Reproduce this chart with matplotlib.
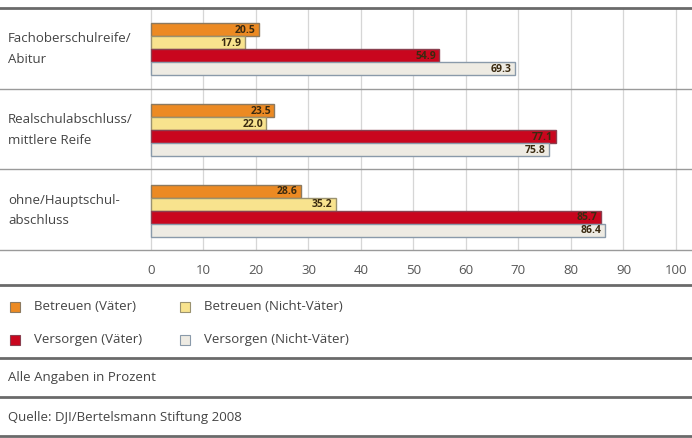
import matplotlib.pyplot as plt
from matplotlib.lines import Line2D
from matplotlib.patches import Rectangle

# data
categories = ["Fachoberschulreife/\nAbitur",
              "Realschulabschluss/\nmittlere Reife",
              "ohne/Hauptschul-\nabschluss"]
series_names = ["Betreuen (Väter)", "Betreuen (Nicht-Väter)",
                "Versorgen (Väter)", "Versorgen (Nicht-Väter)"]
betreuen_vaeter = [20.5, 23.5, 28.6]
betreuen_nicht = [17.9, 22.0, 35.2]
versorgen_vaeter = [54.9, 77.1, 85.7]
versorgen_nicht = [69.3, 75.8, 86.4]
xticks = [0, 10, 20, 30, 40, 50, 60, 70, 80, 90, 100]
note = "Alle Angaben in Prozent"
source = "Quelle: DJI/Bertelsmann Stiftung 2008"

series = [betreuen_vaeter, betreuen_nicht, versorgen_vaeter, versorgen_nicht]
colors = ["#EC8A23", "#F8E38E", "#C9061E", "#EEEBE3"]
edges = ["#8C7A60", "#9A9270", "#8A4050", "#8A9AAA"]

plt.rcParams['font.family'] = ['Open Sans', 'DejaVu Sans']

W, H = 692, 438
fig = plt.figure(figsize=(W / 100, H / 100), dpi=100)
fig.patch.set_facecolor("white")

px_per_unit = 5.25
x0_px = 151
ax = fig.add_axes([0, 1 - 250 / H, 1, (250 - 8) / H])
ax.set_xlim(-x0_px / px_per_unit, (W - x0_px) / px_per_unit)
ax.set_ylim(2.5, -0.5)

bar_h = 0.161
offsets = [-1.5 * bar_h, -0.5 * bar_h, 0.5 * bar_h, 1.5 * bar_h]
for vals, off, c, ec in zip(series, offsets, colors, edges):
    ys = [i + 0.012 + off for i in range(len(categories))]
    ax.barh(ys, vals, height=bar_h, color=c, edgecolor=ec, linewidth=1.0, zorder=3)
    for y, v in zip(ys, vals):
        ax.text(v - 0.6, y + 0.01, f"{v:.1f}", ha="right", va="center",
                fontsize=7.5, fontweight="bold", color="#3a2a10", zorder=4)

# grid
for t in xticks:
    ax.axvline(t, color="#d6d6d6", linewidth=0.9, zorder=1)
for sep in [0.5, 1.5]:
    ax.axhline(sep, color="#9a9a9a", linewidth=1.0, zorder=2)

for s in ["left", "right"]:
    ax.spines[s].set_visible(False)
ax.spines["top"].set_color("#6a6a6a")
ax.spines["top"].set_linewidth(2.0)
ax.spines["bottom"].set_color("#9a9a9a")
ax.spines["bottom"].set_linewidth(1.0)

ax.set_yticks([])
ax.set_xticks(xticks)
ax.set_xticklabels([str(t) for t in xticks], fontsize=9.5, color="#555555")
ax.tick_params(axis="x", length=0, pad=10)

for i, cat in enumerate(categories):
    ax.text(-x0_px / px_per_unit + 8 / px_per_unit, i + 0.01, cat, ha="left", va="center",
            fontsize=9.5, color="#444444", linespacing=1.75)

# horizontal rules below chart
for y_px in [285, 358, 397, 436]:
    fig.add_artist(Line2D([0, 1], [1 - y_px / H] * 2, color="#6a6a6a", linewidth=2.0))

# legend
leg_pos = [(10, 307), (180, 307), (10, 340), (180, 340)]
for (lx, ly), name, c, ec in zip(leg_pos, series_names, colors, edges):
    fig.add_artist(Rectangle((lx / W, 1 - (ly + 5) / H), 10 / W, 10 / H,
                             facecolor=c, edgecolor=ec, linewidth=0.8))
    fig.text((lx + 24) / W, 1 - ly / H, name, ha="left", va="center",
             fontsize=9.5, color="#444444")

fig.text(8 / W, 1 - 378 / H, note, ha="left", va="center", fontsize=9.5, color="#444444")
fig.text(8 / W, 1 - 418 / H, source, ha="left", va="center", fontsize=9.5, color="#444444")

fig.savefig("out.png", dpi=100)
